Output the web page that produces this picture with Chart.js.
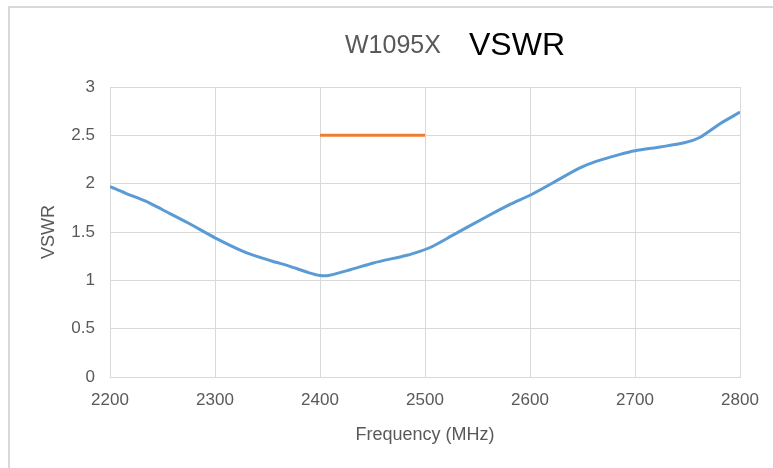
<!DOCTYPE html>
<html>
<head>
<meta charset="utf-8">
<script src="https://cdn.jsdelivr.net/npm/chart.js@4"></script>
<style>
  html, body { margin: 0; padding: 0; background: #ffffff; }
  #grafico { display: block; }
</style>
</head>
<body>
<canvas id="grafico" width="773" height="468"></canvas>
<script>
// Dados (frequência em MHz, VSWR)
const frequencias = [2200, 2215, 2234, 2250, 2275, 2300, 2329, 2354, 2370, 2389, 2400, 2408, 2429, 2451, 2483,
                     2495, 2506, 2527, 2559, 2582, 2600, 2622, 2647, 2663, 2685, 2700, 2724, 2746, 2762, 2781, 2800];
const vswr = [1.97, 1.90, 1.82, 1.73, 1.59, 1.44, 1.29, 1.20, 1.15, 1.08, 1.05, 1.05, 1.11, 1.18, 1.26,
              1.30, 1.345, 1.47, 1.66, 1.79, 1.88, 2.01, 2.16, 2.23, 2.30, 2.34, 2.38, 2.42, 2.48, 2.62, 2.74];

// Linha de limite (banda 2400-2500 MHz em VSWR 2.5)
const limiteFreq = [2400, 2500];
const limiteVswr = [2.5, 2.5];

const tituloModelo = 'W1095X';
const tituloPrincipal = 'VSWR';
const tituloEixoX = 'Frequency (MHz)';
const tituloEixoY = 'VSWR';

const corTexto = '#595959';
const corGrade = '#D9D9D9';
const fonte = '"Liberation Sans", Arial, sans-serif';

// Plugin para desenhar a moldura e o título com duas cores
const moldura = {
    id: 'moldura',
    beforeDraw(chart) {
        const ctx = chart.ctx;
        ctx.save();
        ctx.fillStyle = '#ffffff';
        ctx.fillRect(0, 0, chart.width, chart.height);
        ctx.strokeStyle = corGrade;
        ctx.lineWidth = 2;
        ctx.beginPath();
        ctx.moveTo(9, chart.height + 2);
        ctx.lineTo(9, 7);
        ctx.lineTo(chart.width + 2, 7);
        ctx.stroke();
        ctx.restore();
    },
    afterDraw(chart) {
        const ctx = chart.ctx;
        ctx.save();
        ctx.textBaseline = 'alphabetic';
        ctx.textAlign = 'left';
        ctx.fillStyle = corTexto;
        ctx.font = '25px ' + fonte;
        ctx.fillText(tituloModelo, 345, 53);
        ctx.fillStyle = '#000000';
        ctx.font = '32px ' + fonte;
        ctx.fillText(tituloPrincipal, 469, 55);
        ctx.restore();
    }
};

const pontos = frequencias.map((f, i) => ({ x: f, y: vswr[i] }));
const pontosLimite = limiteFreq.map((f, i) => ({ x: f, y: limiteVswr[i] }));

const config = {
    type: 'scatter',
    data: {
        datasets: [{
            data: pontos,
            showLine: true,
            borderColor: '#5B9BD5',
            borderWidth: 3,
            pointRadius: 0,
            tension: 0.25,
            fill: false,
        }, {
            data: pontosLimite,
            showLine: true,
            borderColor: '#ED7D31',
            borderWidth: 3,
            pointRadius: 0,
            fill: false,
        }],
    },
    options: {
        responsive: false,
        animation: false,
        layout: {
            padding: { top: 87, left: 0, right: 33, bottom: 0 },
        },
        plugins: {
            legend: { display: false },
            tooltip: { enabled: false },
            title: { display: false },
        },
        scales: {
            x: {
                type: 'linear',
                min: 2200,
                max: 2800,
                afterFit(scale) { scale.height = 91; },
                ticks: {
                    stepSize: 100,
                    padding: 13,
                    color: corTexto,
                    font: { family: fonte, size: 17 },
                    callback: v => String(v),
                },
                grid: { color: corGrade, drawTicks: false },
                border: { color: corGrade },
                title: {
                    display: true,
                    text: tituloEixoX,
                    color: corTexto,
                    font: { family: fonte, size: 18 },
                    padding: { top: 0, bottom: 22 },
                },
            },
            y: {
                min: 0,
                max: 3,
                afterFit(scale) { scale.width = 110; },
                ticks: {
                    stepSize: 0.5,
                    padding: 15,
                    color: corTexto,
                    font: { family: fonte, size: 17 },
                    callback: v => String(v),
                },
                grid: { color: corGrade, drawTicks: false },
                border: { color: corGrade },
                title: {
                    display: true,
                    text: tituloEixoY,
                    color: corTexto,
                    font: { family: fonte, size: 18 },
                    padding: { top: 38, bottom: 0 },
                },
            },
        },
    },
    plugins: [moldura],
};

new Chart(document.getElementById('grafico').getContext('2d'), config);
</script>
</body>
</html>
